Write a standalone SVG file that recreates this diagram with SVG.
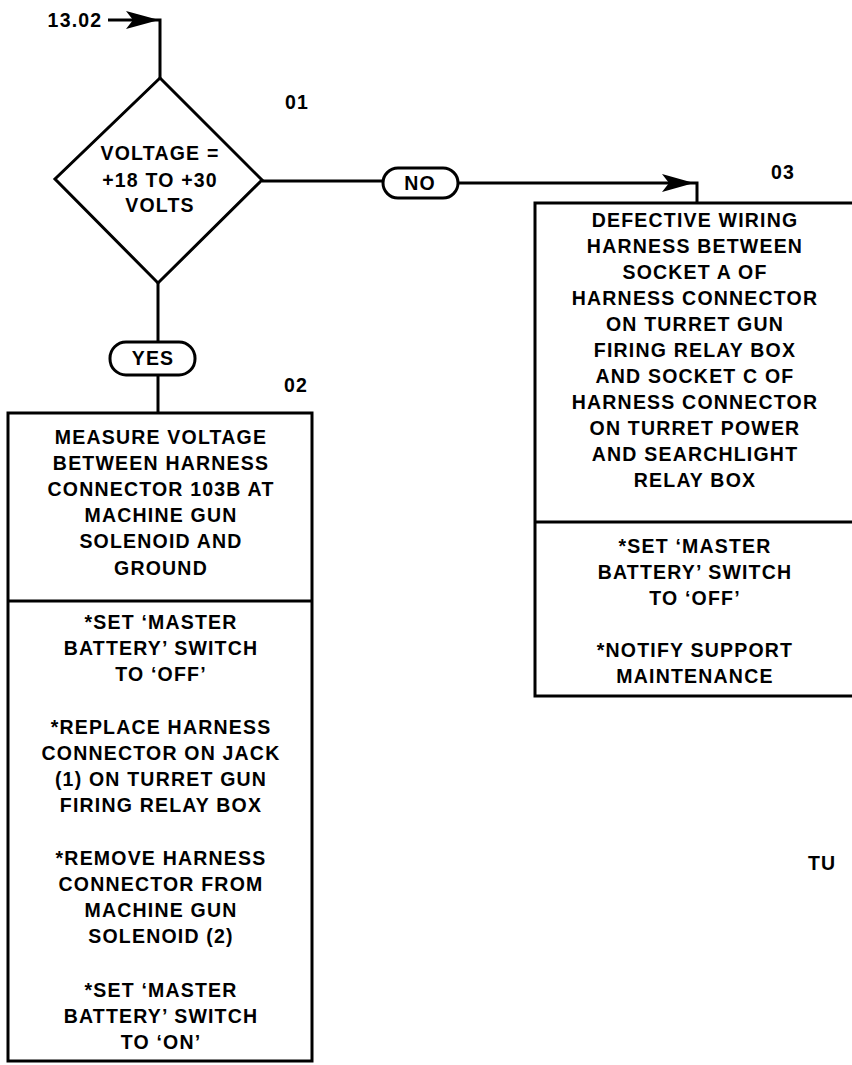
<svg xmlns="http://www.w3.org/2000/svg" width="852" height="1065" viewBox="0 0 852 1065">
<style>
text{font-family:"Liberation Sans",Arial,sans-serif;font-weight:bold;font-size:19.5px;letter-spacing:1.2px;fill:#000;text-anchor:middle}
.l{text-anchor:start}
.shape{fill:#fff;stroke:#000;stroke-width:3}
.wire{fill:none;stroke:#000;stroke-width:3}
.head{fill:#000;stroke:none}
</style>
<rect width="852" height="1065" fill="#fff"/>
<g id="connectors">
<path class="wire" d="M108,20 H160 V78"/>
<path class="head" d="M159,20 L126,11 L133,20 L126,29 Z"/>
<path class="wire" d="M262,181 H383"/>
<path class="wire" d="M458,183 H697 V203"/>
<path class="head" d="M694,183 L662,174 L669,183 L662,192 Z"/>
<path class="wire" d="M158,283 V342"/>
<path class="wire" d="M158,375 V413"/>
</g>
<g id="entry">
<text x="75" y="27">13.02</text>
</g>
<g id="n01">
<polygon class="shape" points="160,78 262,180 158,283 55,179"/>
<text x="160" y="160">VOLTAGE =</text>
<text x="160" y="187">+18 TO +30</text>
<text x="160" y="212">VOLTS</text>
<text x="297" y="109">01</text>
</g>
<g id="no">
<rect class="shape" x="383" y="168" width="75" height="30" rx="15"/>
<text x="420" y="190">NO</text>
</g>
<g id="yes">
<rect class="shape" x="110" y="342" width="85" height="33" rx="16"/>
<text x="153" y="365">YES</text>
</g>
<g id="n02">
<rect class="shape" x="8" y="413" width="304" height="648"/>
<line class="wire" x1="8" y1="601" x2="312" y2="601"/>
<text x="296" y="392">02</text>
<text x="161" y="444">MEASURE VOLTAGE</text>
<text x="161" y="470">BETWEEN HARNESS</text>
<text x="161" y="496">CONNECTOR 103B AT</text>
<text x="161" y="522">MACHINE GUN</text>
<text x="161" y="548">SOLENOID AND</text>
<text x="161" y="575">GROUND</text>
<text x="161" y="629">*SET ‘MASTER</text>
<text x="161" y="655">BATTERY’ SWITCH</text>
<text x="161" y="681">TO ‘OFF’</text>
<text x="161" y="734">*REPLACE HARNESS</text>
<text x="161" y="760">CONNECTOR ON JACK</text>
<text x="161" y="786">(1) ON TURRET GUN</text>
<text x="161" y="812">FIRING RELAY BOX</text>
<text x="161" y="865">*REMOVE HARNESS</text>
<text x="161" y="891">CONNECTOR FROM</text>
<text x="161" y="917">MACHINE GUN</text>
<text x="161" y="943">SOLENOID (2)</text>
<text x="161" y="997">*SET ‘MASTER</text>
<text x="161" y="1023">BATTERY’ SWITCH</text>
<text x="161" y="1049">TO ‘ON’</text>
</g>
<g id="n03">
<rect class="shape" x="535" y="203" width="330" height="493"/>
<line class="wire" x1="535" y1="522" x2="852" y2="522"/>
<text x="783" y="179">03</text>
<text x="695" y="227">DEFECTIVE WIRING</text>
<text x="695" y="253">HARNESS BETWEEN</text>
<text x="695" y="279">SOCKET A OF</text>
<text x="695" y="305">HARNESS CONNECTOR</text>
<text x="695" y="331">ON TURRET GUN</text>
<text x="695" y="357">FIRING RELAY BOX</text>
<text x="695" y="383">AND SOCKET C OF</text>
<text x="695" y="409">HARNESS CONNECTOR</text>
<text x="695" y="435">ON TURRET POWER</text>
<text x="695" y="461">AND SEARCHLIGHT</text>
<text x="695" y="487">RELAY BOX</text>
<text x="695" y="553">*SET ‘MASTER</text>
<text x="695" y="579">BATTERY’ SWITCH</text>
<text x="695" y="605">TO ‘OFF’</text>
<text x="695" y="657">*NOTIFY SUPPORT</text>
<text x="695" y="683">MAINTENANCE</text>
</g>
<g id="tu">
<text class="l" x="808" y="870">TU</text>
</g>
</svg>
